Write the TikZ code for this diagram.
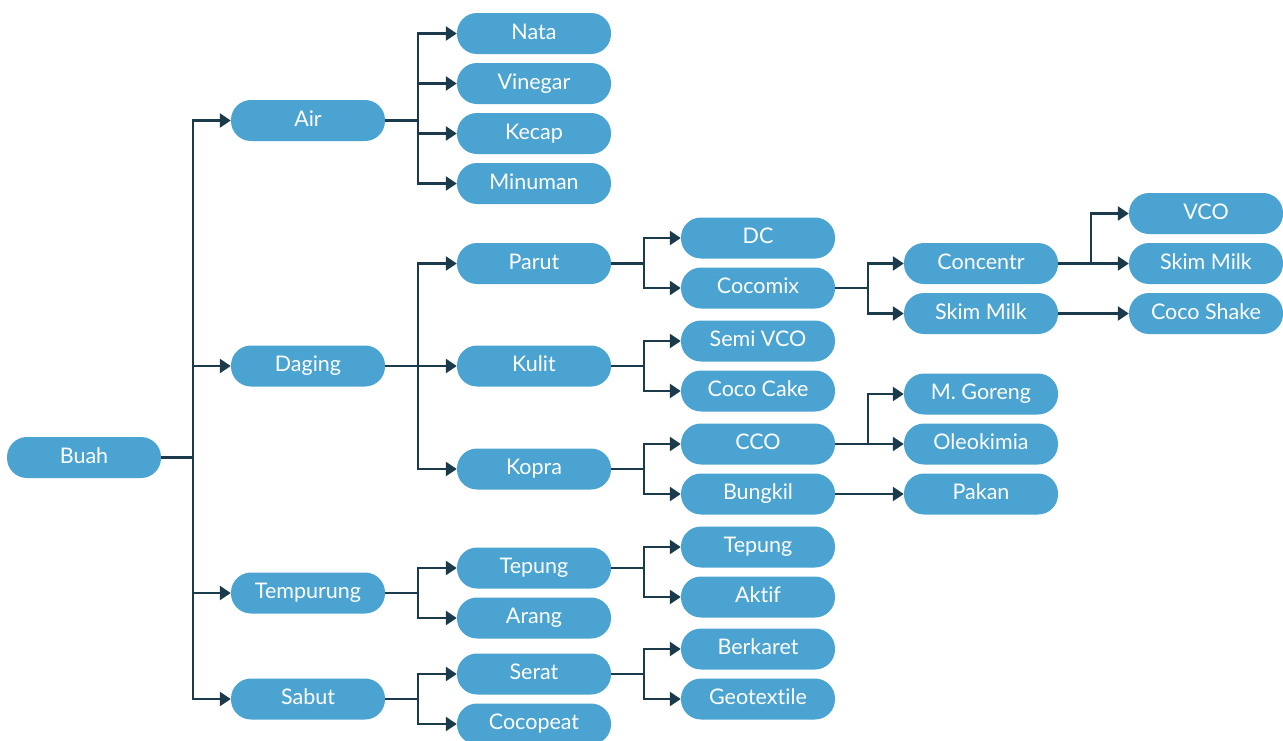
\documentclass[tikz,border=0pt]{standalone}
\usepackage{fontspec}
\setmainfont[Ligatures=NoCommon]{Lato}
\usetikzlibrary{arrows.meta}
\definecolor{nodeblue}{HTML}{4AA3D0}
\definecolor{linec}{HTML}{1B3A4B}
\begin{document}
\begin{tikzpicture}[x=1pt,y=-1pt,
  box/.style={fill=nodeblue, rounded corners=20pt, minimum width=154pt, minimum height=41pt,
    inner sep=0pt, text=white, text height=15pt, text depth=4pt,
    font=\fontsize{21.5}{22}\selectfont},
  conn/.style={draw=linec, line width=2.4pt, -{Triangle[length=11pt,width=14pt]}}]
\useasboundingbox (0,0) rectangle (1283,740);
% column 0
\node[box] (buah) at (84,457.5) {Buah};
% column 1
\node[box] (air) at (308,120.5) {Air};
\node[box] (daging) at (308,366) {Daging};
\node[box] (tempurung) at (308,593) {Tempurung};
\node[box] (sabut) at (308,699) {Sabut};
% column 2
\node[box] (nata) at (534,33.5) {Nata};
\node[box] (vinegar) at (534,83.5) {Vinegar};
\node[box] (kecap) at (534,133.5) {Kecap};
\node[box] (minuman) at (534,183.5) {Minuman};
\node[box] (parut) at (534,263.5) {Parut};
\node[box] (kulit) at (534,366) {Kulit};
\node[box] (kopra) at (534,469) {Kopra};
\node[box] (tepung) at (534,568) {Tepung};
\node[box] (arang) at (534,618) {Arang};
\node[box] (serat) at (534,674) {Serat};
\node[box] (cocopeat) at (534,724) {Cocopeat};
% column 3
\node[box] (dc) at (758,238) {DC};
\node[box] (cocomix) at (758,288) {Cocomix};
\node[box] (semivco) at (758,341) {Semi VCO};
\node[box] (cococake) at (758,391) {Coco Cake};
\node[box] (cco) at (758,444) {CCO};
\node[box] (bungkil) at (758,494) {Bungkil};
\node[box] (tepung2) at (758,547) {Tepung};
\node[box] (aktif) at (758,597) {Aktif};
\node[box] (berkaret) at (758,649) {Berkaret};
\node[box] (geotextile) at (758,699) {Geotextile};
% column 4
\node[box] (concentr) at (981,263.5) {Concentr};
\node[box] (skimmilk) at (981,313.5) {Skim Milk};
\node[box] (mgoreng) at (981,394) {M. Goreng};
\node[box] (oleokimia) at (981,444) {Oleokimia};
\node[box] (pakan) at (981,494) {Pakan};
% column 5
\node[box] (vco) at (1206,213.5) {VCO};
\node[box] (skimmilk2) at (1206,263.5) {Skim Milk};
\node[box] (cocoshake) at (1206,313.5) {Coco Shake};
% connectors
\foreach \t in {air,daging,tempurung,sabut}
  \draw[conn] (buah.east) -- ++(32,0) |- (\t.west);
\foreach \t in {nata,vinegar,kecap,minuman}
  \draw[conn] (air.east) -- ++(33,0) |- (\t.west);
\foreach \t in {parut,kulit,kopra}
  \draw[conn] (daging.east) -- ++(33,0) |- (\t.west);
\foreach \t in {tepung,arang}
  \draw[conn] (tempurung.east) -- ++(33,0) |- (\t.west);
\foreach \t in {serat,cocopeat}
  \draw[conn] (sabut.east) -- ++(33,0) |- (\t.west);
\foreach \t in {dc,cocomix}
  \draw[conn] (parut.east) -- ++(33,0) |- (\t.west);
\foreach \t in {semivco,cococake}
  \draw[conn] (kulit.east) -- ++(33,0) |- (\t.west);
\foreach \t in {cco,bungkil}
  \draw[conn] (kopra.east) -- ++(33,0) |- (\t.west);
\foreach \t in {tepung2,aktif}
  \draw[conn] (tepung.east) -- ++(33,0) |- (\t.west);
\foreach \t in {berkaret,geotextile}
  \draw[conn] (serat.east) -- ++(33,0) |- (\t.west);
\foreach \t in {concentr,skimmilk}
  \draw[conn] (cocomix.east) -- ++(33,0) |- (\t.west);
\foreach \t in {mgoreng,oleokimia}
  \draw[conn] (cco.east) -- ++(33,0) |- (\t.west);
\draw[conn] (bungkil.east) -- (pakan.west);
\foreach \t in {vco,skimmilk2}
  \draw[conn] (concentr.east) -- ++(33,0) |- (\t.west);
\draw[conn] (skimmilk.east) -- (cocoshake.west);
\end{tikzpicture}
\end{document}
